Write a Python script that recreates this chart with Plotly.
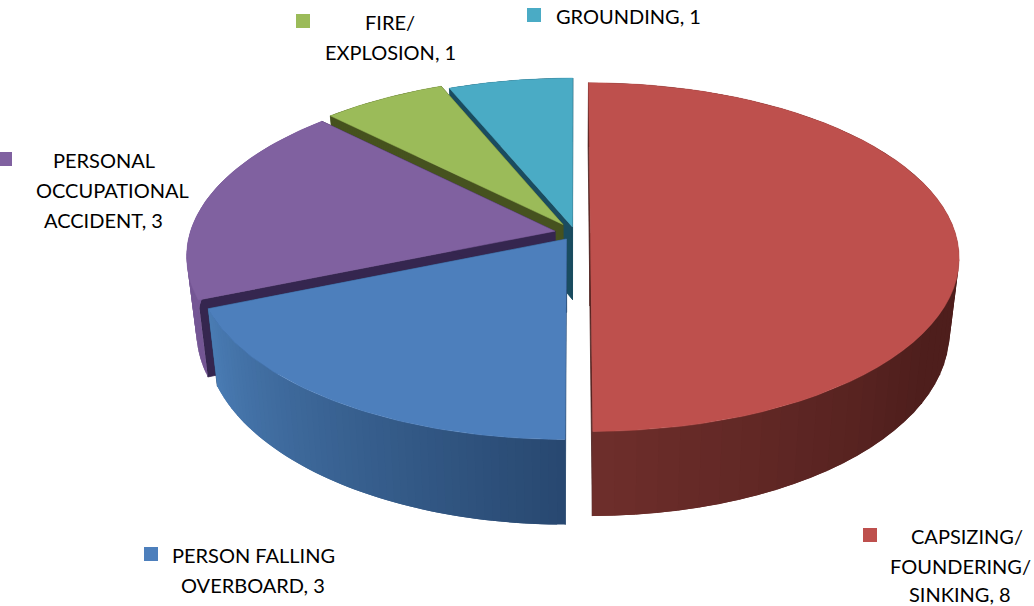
import math
import plotly.graph_objects as go

# ---- data ----
categories = ["CAPSIZING/ FOUNDERING/ SINKING", "PERSON FALLING OVERBOARD",
              "PERSONAL OCCUPATIONAL ACCIDENT", "FIRE/ EXPLOSION", "GROUNDING"]
values = [8, 3, 3, 1, 1]
label_lines = [["CAPSIZING/", "FOUNDERING/", "SINKING, 8"],
               ["PERSON FALLING", "OVERBOARD, 3"],
               ["PERSONAL", "OCCUPATIONAL", "ACCIDENT, 3"],
               ["FIRE/", "EXPLOSION, 1"],
               ["GROUNDING, 1"]]

# ---- style ----
top_colors = ["#BE504D", "#4D7FBC", "#8061A0", "#9BBB59", "#4AABC5"]
wall_colors = ["#4E1F1D", "#2A4A70", "#35264F", "#46521F", "#1A4C60"]
# side gradient: colour at start angle, colour at end angle of each wedge
side_stops = [((78, 30, 28), (110, 46, 43)),
              ((40, 72, 112), (74, 124, 180)),
              ((116, 86, 148), (120, 90, 152)),
              ((70, 82, 30), (70, 82, 30)),
              ((26, 76, 96), (26, 76, 96))]
# fraction of the wedge's arc at which the side gradient begins to change
side_hold = [0.68, 0.0, 0.0, 0.0, 0.0]
explode = [0.042, 0.042, 0.056, 0.06, 0.036]
label_pos = [[(967, 536), (960, 566), (960, 594)],
             [(253, 555), (253, 585)],
             [(104, 160), (112, 190), (103, 220)],
             [(390, 22), (390, 52)],
             [(628, 16)]]
key_pos = [(870, 535), (151, 554), (5, 159), (303, 21), (534, 15)]

CX, CY, A, B, K, DEPTH, CONV = 575, 233, 365, 171, 0.138, 73, 0.975
ARC_STEPS = 60


def project(theta_deg, r, off):
    """theta clockwise from the back of the pie; r in pie radii."""
    t = math.radians(theta_deg)
    u = r * math.sin(t) + off[0]
    v = -r * math.cos(t) + off[1]
    s = 1 / (1 - K * v)
    return CX + A * u * s, CY + B * v * s, s


def drop(p):
    x, y, s = p
    return CX + (x - CX) * CONV, y + DEPTH * s


def poly(fig, pts, color, lw=0.8):
    xs = [p[0] for p in pts] + [pts[0][0]]
    ys = [p[1] for p in pts] + [pts[0][1]]
    if lw:
        fig.add_trace(go.Scatter(x=xs, y=ys, mode="lines", fill="toself", fillcolor=color,
                                 line=dict(color=color, width=lw), hoverinfo="skip", showlegend=False))
    else:
        fig.add_trace(go.Scatter(x=xs, y=ys, mode="none", fill="toself", fillcolor=color,
                                 hoverinfo="skip", showlegend=False))


fig = go.Figure()
total = sum(values)
starts = []
acc = 0
for val in values:
    starts.append(acc)
    acc += val / total * 360

# back to front drawing order
for i in [4, 3, 2, 1, 0]:
    a0 = starts[i]
    a1 = a0 + values[i] / total * 360
    mid = math.radians((a0 + a1) / 2)
    off = (explode[i] * math.sin(mid), -explode[i] * math.cos(mid))
    tip = project(a0, 0, off)
    arc = [project(a0 + (a1 - a0) * j / ARC_STEPS, 1, off) for j in range(ARC_STEPS + 1)]
    # radial walls
    for edge in (arc[0], arc[-1]):
        poly(fig, [tip[:2], edge[:2], drop(edge), drop(tip)], wall_colors[i])
    # outer side, in overlapping strips
    c0, c1 = side_stops[i]
    for j in range(ARC_STEPS):
        f = (j + 0.5) / ARC_STEPS
        f = max(0.0, (f - side_hold[i]) / (1 - side_hold[i]))
        col = "rgb(%d,%d,%d)" % tuple(round(c0[k] + (c1[k] - c0[k]) * f) for k in range(3))
        k1 = min(j + 2, ARC_STEPS)
        poly(fig, [arc[j][:2], arc[k1][:2], drop(arc[k1]), drop(arc[j])], col, 0)
    # top face
    poly(fig, [tip[:2]] + [p[:2] for p in arc], top_colors[i], 0.5)

# legend keys next to labels
fig.add_trace(go.Scatter(x=[p[0] for p in key_pos], y=[p[1] for p in key_pos], mode="markers",
                         marker=dict(symbol="square", size=14, color=top_colors, line=dict(width=0)),
                         hoverinfo="skip", showlegend=False))

for lines, pos in zip(label_lines, label_pos):
    for text, (x, y) in zip(lines, pos):
        fig.add_annotation(x=x, y=y, text=text, showarrow=False, xanchor="center", yanchor="middle",
                           font=dict(family="Lato", size=20, color="#000000"))

fig.update_layout(width=1034, height=606, margin=dict(l=0, r=0, t=0, b=0),
                  paper_bgcolor="white", plot_bgcolor="white",
                  xaxis=dict(range=[0, 1034], visible=False, fixedrange=True),
                  yaxis=dict(range=[606, 0], visible=False, fixedrange=True))
fig.write_html("out.html", post_script="document.body.style.margin='0';",
               config={"displayModeBar": False})
